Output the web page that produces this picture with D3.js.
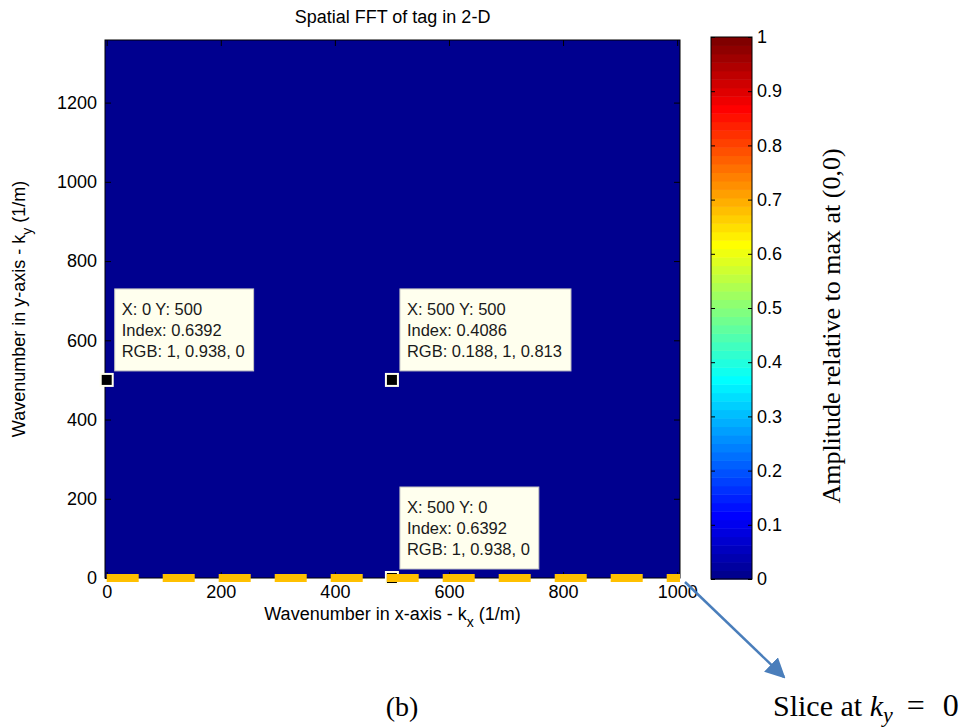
<!DOCTYPE html>
<html lang="en">
<head>
<meta charset="utf-8">
<title>Spatial FFT of tag in 2-D</title>
<script src="https://cdnjs.cloudflare.com/ajax/libs/d3/7.8.5/d3.min.js"></script>
<style>
  body { margin: 0; background: #fff; }
  text { font-family: "Liberation Sans", Arial, sans-serif; fill: #000; }
  .serif { font-family: "Liberation Serif", "Times New Roman", serif; }
</style>
</head>
<body>
<script>
var w = 979, h = 728;

// axis ticks
var xTicks = [0, 200, 400, 600, 800, 1000];
var yTicks = [0, 200, 400, 600, 800, 1000, 1200];
var cTicks = [0, 0.1, 0.2, 0.3, 0.4, 0.5, 0.6, 0.7, 0.8, 0.9, 1];

// data tips
var tipX = [0, 500, 500];
var tipY = [500, 500, 0];
var tipIndex = [0.6392, 0.4086, 0.6392];
var tipRGB = ["1, 0.938, 0", "0.188, 1, 0.813", "1, 0.938, 0"];

// slice line at ky = 0
var sliceKx = [0, 1005];
var sliceKy = [0, 0];

// MATLAB jet colormap
function jet(m) {
  var n = Math.ceil(m / 4), u = [], i;
  for (i = 1; i <= n; i++) u.push(i / n);
  for (i = 1; i < n; i++) u.push(1);
  for (i = n; i >= 1; i--) u.push(i / n);
  var off = Math.ceil(n / 2) - (m % 4 == 1 ? 1 : 0);
  var J = d3.range(m).map(function() { return [0, 0, 0]; });
  u.forEach(function(v, k) {
    var g = off + k + 1, r = g + n, b = g - n;
    if (r >= 1 && r <= m) J[r - 1][0] = v;
    if (g >= 1 && g <= m) J[g - 1][1] = v;
    if (b >= 1 && b <= m) J[b - 1][2] = v;
  });
  return J.map(function(c) { return d3.rgb(c[0] * 255, c[1] * 255, c[2] * 255).toString(); });
}
var cmap = jet(64);
var color = d3.scaleQuantize().domain([0, 1]).range(cmap);

var svg = d3.select("body").append("svg")
  .attr("width", w).attr("height", h);

var x = d3.scaleLinear().domain([-3, 1005]).range([105, 680]);
var y = d3.scaleLinear().domain([0, 1358]).range([578, 40]);

// image background (amplitude ~0 everywhere off the slice)
svg.append("rect")
  .attr("x", x(-3)).attr("y", y(1358))
  .attr("width", x(1005) - x(-3)).attr("height", y(0) - y(1358))
  .style("fill", color(0));

// axes box with inward ticks
var g = svg.append("g");
g.append("rect")
  .attr("x", x(-3)).attr("y", y(1358))
  .attr("width", x(1005) - x(-3)).attr("height", y(0) - y(1358))
  .style("fill", "none").style("stroke", "#000").style("stroke-width", 1);

g.append("g").attr("transform", "translate(0," + y(0) + ")")
  .call(d3.axisBottom(x).tickValues(xTicks).tickSize(-6).tickPadding(7).tickFormat(d3.format("d")))
  .call(function(s) { s.select(".domain").remove(); s.selectAll("text").style("font-size", "18px"); });
g.append("g").attr("transform", "translate(0," + y(1358) + ")")
  .call(d3.axisTop(x).tickValues(xTicks).tickSize(-6).tickFormat(""))
  .call(function(s) { s.select(".domain").remove(); });
g.append("g").attr("transform", "translate(" + x(-3) + ",0)")
  .call(d3.axisLeft(y).tickValues(yTicks).tickSize(-6).tickPadding(8).tickFormat(d3.format("d")))
  .call(function(s) { s.select(".domain").remove(); s.selectAll("text").style("font-size", "18px"); });
g.append("g").attr("transform", "translate(" + x(1005) + ",0)")
  .call(d3.axisRight(y).tickValues(yTicks).tickSize(-6).tickFormat(""))
  .call(function(s) { s.select(".domain").remove(); });

// title
svg.append("text")
  .attr("x", (x(-3) + x(1005)) / 2).attr("y", 23)
  .attr("text-anchor", "middle").style("font-size", "18px")
  .text("Spatial FFT of tag in 2-D");

// axis labels
var xl = svg.append("text")
  .attr("x", (x(-3) + x(1005)) / 2).attr("y", 620)
  .attr("text-anchor", "middle").style("font-size", "18px");
xl.append("tspan").text("Wavenumber in x-axis - k");
xl.append("tspan").attr("dy", 7).style("font-size", "14px").text("x");
xl.append("tspan").attr("dy", -7).text(" (1/m)");

var yl = svg.append("text")
  .attr("transform", "translate(25," + (y(0) + y(1358)) / 2 + ")rotate(-90)")
  .attr("text-anchor", "middle").style("font-size", "18px");
yl.append("tspan").text("Wavenumber in y-axis - k");
yl.append("tspan").attr("dy", 7).style("font-size", "14px").text("y");
yl.append("tspan").attr("dy", -7).text(" (1/m)");

// data tips
var tips = svg.selectAll(".tip")
  .data(tipX.map(function(d, i) { return i; }))
  .enter().append("g").attr("class", "tip");

tips.each(function(i) {
  var t = d3.select(this);
  var px = x(tipX[i]), py = y(tipY[i]);
  var box = t.append("rect")
    .attr("x", px + 8).attr("y", py - 91)
    .attr("height", 82)
    .style("fill", "#ffffee").style("stroke", "#c4c4c4").style("stroke-width", 1);
  var lines = ["X: " + tipX[i] + " Y: " + tipY[i], "Index: " + tipIndex[i], "RGB: " + tipRGB[i]];
  var maxw = 0;
  lines.forEach(function(s, k) {
    var tx = t.append("text")
      .attr("x", px + 15).attr("y", py - 65 + k * 21)
      .style("font-size", "16.5px").style("fill", "#1a1a1a")
      .text(s);
    maxw = Math.max(maxw, tx.node().getComputedTextLength());
  });
  box.attr("width", maxw + 16);
  t.append("rect")
    .attr("x", px - 6).attr("y", py - 6)
    .attr("width", 12).attr("height", 12)
    .style("fill", "#000").style("stroke", "#ffffee").style("stroke-width", 2);
});

// slice marker along ky = 0
svg.append("line")
  .attr("x1", x(sliceKx[0])).attr("y1", y(sliceKy[0]))
  .attr("x2", x(sliceKx[1])).attr("y2", y(sliceKy[1]))
  .style("stroke", "#ffc000").style("stroke-width", 8)
  .style("stroke-dasharray", "32,24");

// colorbar
var cx0 = 711, cx1 = 752;
var c = d3.scaleLinear().domain([0, 1]).range([579, 37]);
svg.selectAll(".cbar")
  .data(cmap)
  .enter().append("rect")
  .attr("class", "cbar")
  .attr("x", cx0)
  .attr("y", function(d, i) { return c((i + 1) / 64); })
  .attr("width", cx1 - cx0)
  .attr("height", function(d, i) { return c(i / 64) - c((i + 1) / 64) + 0.5; })
  .style("fill", function(d) { return d; });
svg.append("rect")
  .attr("x", cx0).attr("y", c(1)).attr("width", cx1 - cx0).attr("height", c(0) - c(1))
  .style("fill", "none").style("stroke", "#000");
svg.append("g").attr("transform", "translate(" + cx1 + ",0)")
  .call(d3.axisRight(c).tickValues(cTicks).tickSize(-4).tickPadding(5).tickFormat(d3.format("~g")))
  .call(function(s) { s.select(".domain").remove(); s.selectAll("text").style("font-size", "18px"); });
svg.append("g").attr("transform", "translate(" + cx0 + ",0)")
  .call(d3.axisLeft(c).tickValues(cTicks).tickSize(-4).tickFormat(""))
  .call(function(s) { s.select(".domain").remove(); });

svg.append("text").attr("class", "serif")
  .attr("transform", "translate(840,326)rotate(-90)")
  .attr("text-anchor", "middle").style("font-size", "26px")
  .text("Amplitude relative to max at (0,0)");

// annotation arrow
var defs = svg.append("defs");
defs.append("marker")
  .attr("id", "ah").attr("viewBox", "0 0 10 10")
  .attr("refX", 9).attr("refY", 5)
  .attr("markerWidth", 8).attr("markerHeight", 8)
  .attr("orient", "auto")
  .append("path").attr("d", "M0,0L10,5L0,10z").style("fill", "#4a7ebb");
svg.append("line")
  .attr("x1", 685).attr("y1", 582).attr("x2", 784).attr("y2", 677)
  .style("stroke", "#4a7ebb").style("stroke-width", 2.5)
  .attr("marker-end", "url(#ah)");

svg.append("text").attr("class", "serif")
  .attr("x", 402).attr("y", 716).attr("text-anchor", "middle")
  .style("font-size", "28px").text("(b)");

var sl = svg.append("text").attr("class", "serif")
  .attr("x", 773).attr("y", 716).style("font-size", "30px");
sl.append("tspan").text("Slice at ");
sl.append("tspan").style("font-style", "italic").text("k");
sl.append("tspan").attr("dy", 6).style("font-style", "italic").style("font-size", "22px").text("y");
sl.append("tspan").attr("dy", -6).attr("dx", 14).style("font-size", "32px").text("=");
sl.append("tspan").attr("dx", 18).style("font-size", "32px").text("0");
</script>
</body>
</html>
